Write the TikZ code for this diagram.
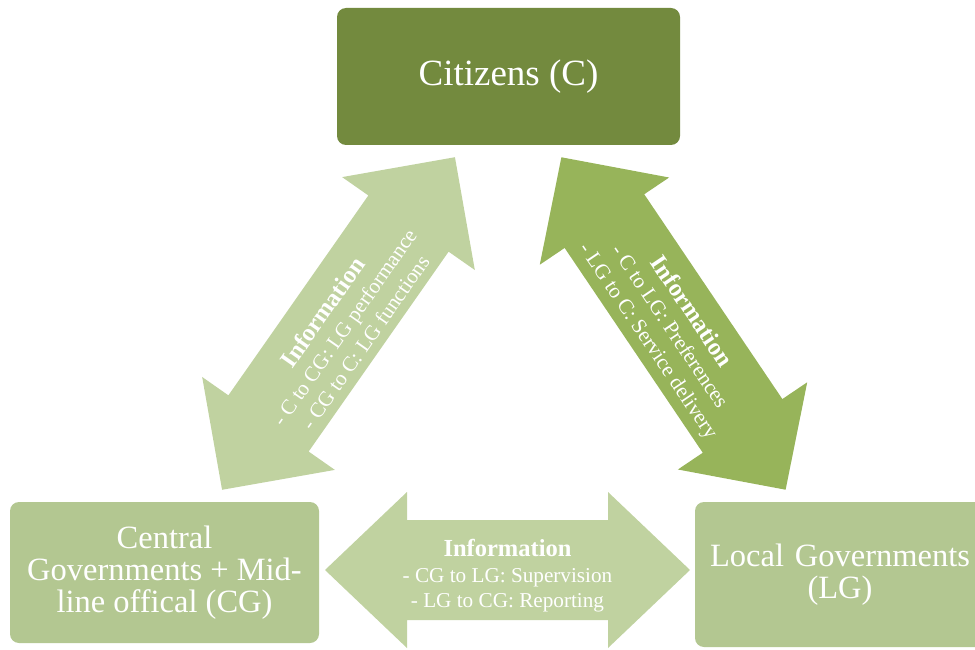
\documentclass[tikz,border=0pt]{standalone}
\usepackage{fontspec}
\setmainfont{Liberation Serif}
\definecolor{citizengreen}{HTML}{738A3E}
\definecolor{boxgreen}{HTML}{B3C791}
\definecolor{palearrow}{HTML}{C0D2A0}
\definecolor{midarrow}{HTML}{97B45A}
% double-headed block arrow centred on the origin, along x:
% #1 total length, #2 head length, #3 head half-width, #4 shaft half-width
\newcommand{\blockarrowpath}[4]{%
  (-#1/2,0) -- (-#1/2+#2,-#3) -- (-#1/2+#2,-#4) -- (#1/2-#2,-#4) --
  (#1/2-#2,-#3) -- (#1/2,0) -- (#1/2-#2,#3) -- (#1/2-#2,#4) --
  (-#1/2+#2,#4) -- (-#1/2+#2,#3) -- cycle}
% heading line inside the arrow labels
\newcommand{\infohead}{\fontsize{24.5}{25.5}\selectfont\bfseries}
\begin{document}
\begin{tikzpicture}[x=1pt,y=-1pt,
  actor/.style={rounded corners=9pt, text=white, align=center, inner sep=0pt,
    font=\fontsize{32.5}{32}\selectfont},
  infotext/.style={text=white, align=center, inner sep=0pt,
    font=\fontsize{21.2}{25.5}\selectfont}]
\useasboundingbox (0,0) rectangle (975,650);

% actors
\node[actor, fill=citizengreen, minimum width=343pt, minimum height=137pt,
  font=\fontsize{37}{40}\selectfont] (C) at (508.5,76.5) {Citizens (C)};
\node[actor, fill=boxgreen, minimum width=309pt, minimum height=141pt]
  (CG) at (164.5,572.5) {Central\\Governments + Mid-\\line offical (CG)};
\node[actor, fill=boxgreen, minimum width=290pt, minimum height=145pt,
  text width=290pt] (LG) at (840,574.5) {Local Governments\\(LG)};

% information flow between citizens and central government
\begin{scope}[shift={(338.5,323.5)}, rotate=55]
  \fill[palearrow] \blockarrowpath{406}{81}{81}{49};
\end{scope}
\node[infotext, rotate=55] (fCCG) at (343.4,326.9)
  {{\infohead Information}\\- C to CG: LG performance\\- CG to C: LG functions};

% information flow between citizens and local government
\begin{scope}[shift={(673.5,323.5)}, rotate=-56]
  \fill[midarrow] \blockarrowpath{401}{77}{78}{48};
\end{scope}
\node[infotext, rotate=-56] (fCLG) at (669.5,326.5)
  {{\infohead Information}\\- C to LG: Preferences\\- LG to C: Service delivery};

% information flow between central and local government
\begin{scope}[shift={(507.5,570)}]
  \fill[palearrow] \blockarrowpath{365}{82}{78}{50};
\end{scope}
\node[infotext] (fCGLG) at (507.5,576)
  {{\infohead Information}\\- CG to LG: Supervision\\- LG to CG: Reporting};
\end{tikzpicture}
\end{document}
